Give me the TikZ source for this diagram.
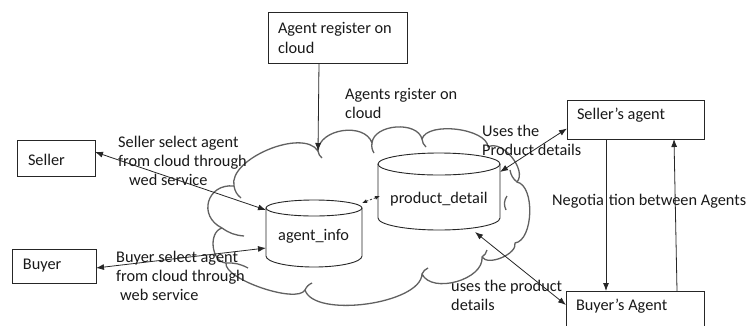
\documentclass[tikz,border=0pt]{standalone}
\usepackage{fontspec}
\setmainfont{Carlito}
\usetikzlibrary{arrows.meta}
\begin{document}
\begin{tikzpicture}[x=1pt,y=-1pt,
  every node/.style={font=\fontsize{16.3}{19}\selectfont, text=black!90},
  box/.style={draw=black!85, line width=0.9pt, anchor=base west, align=flush left, inner ysep=0pt, outer sep=0pt},
  lbl/.style={anchor=base west, inner sep=0pt, align=left},
  arr/.style={-{Latex[length=8pt,width=6pt]}, line width=0.8pt, draw=black!85},
  darr/.style={{Latex[length=8pt,width=6pt]}-{Latex[length=8pt,width=6pt]}, line width=0.8pt, draw=black!85},
  dasharr/.style={{Latex[length=5pt,width=4pt]}-{Latex[length=5pt,width=4pt]}, dashed, dash pattern=on 2pt off 2pt, line width=0.8pt, draw=black!85},
  lobe/.style={bend left=80, looseness=#1},
  cloudline/.style={draw=black!62, line width=1.3pt, line join=round},
  cyl/.style={draw=black!85, line width=0.9pt}]
\useasboundingbox (0,0) rectangle (749,325);
\fill[white] (0,0) rectangle (749,325);
\clip (0,0) rectangle (749,325);

% cloud
\coordinate (J1) at (222,228);
\coordinate (J2) at (234,186);
\coordinate (J3) at (318,151);
\coordinate (J4) at (372,143);
\coordinate (J5) at (422,139);
\coordinate (J6) at (488,147);
\coordinate (J7) at (517,182);
\coordinate (J8) at (515,243);
\coordinate (J9) at (482,257);
\coordinate (J10) at (422,274);
\coordinate (J11) at (305,290);
\coordinate (J12) at (226,263);
\draw[cloudline] (J1) to[lobe=1.6] (J2) to[lobe=0.78] (J3) to[lobe=1.05] (J4)
  to[lobe=0.97] (J5) to[lobe=0.72] (J6) to[lobe=0.9] (J7) to[lobe=0.78] (J8)
  to[lobe=0.8] (J9) to[lobe=0.93] (J10) to[lobe=0.65] (J11) to[lobe=0.5] (J12)
  to[lobe=1.07] (J1);
% inner curls
\draw[cloudline] (J2) to[bend right=20] (241,198);
\draw[cloudline] (J3) to[bend right=20] (322,158);
\draw[cloudline] (J4) to[bend right=20] (374,153);
\draw[cloudline] (J5) to[bend right=20] (426,147);
\draw[cloudline] (J7) to[bend left=20] (510,170);
\draw[cloudline] (507,196) to[bend right=30] (506,210);
\draw[cloudline] (J9) to[bend right=20] (487,250);
\draw[cloudline] (J10) to[bend left=20] (428,268);
\draw[cloudline] (J11) to[bend left=20] (312,283);
\draw[cloudline] (J12) to[bend left=15] (248,268);
\draw[cloudline] (J1) to[bend right=15] (244,236);

% cylinders
\draw[cyl, fill=white] (266,208) -- (266,256) arc[start angle=180,end angle=360,x radius=48pt,y radius=11pt] -- (362,208);
\draw[cyl] (314,208) ellipse[x radius=48pt, y radius=8pt];
\node[lbl] (ai) at (278,240) {agent\_info};
\draw[cyl, fill=white] (378,164) -- (378,218) arc[start angle=180,end angle=360,x radius=61pt,y radius=12pt] -- (500,164);
\draw[cyl] (439,164) ellipse[x radius=61pt, y radius=11pt];
\node[lbl] (pd) at (390,203) {product\_detail};

\coordinate (aiTL) at (266,210);
\coordinate (aiL) at (266,248);
\coordinate (aiTR) at (362,203);
\coordinate (pdL) at (380,196);
\coordinate (pdTR) at (500,172);
\coordinate (pdB) at (475,232);
\coordinate (cloudtop) at (318,151);

% boxes
\node[box, inner xsep=10pt, text width=119pt, text height=21pt, text depth=30pt,
  font=\fontsize{16.3}{20}\selectfont] (reg) at (268,33) {Agent register on\\cloud};
\node[box, inner xsep=11pt, text width=56pt, text height=25pt, text depth=11pt] (seller) at (17,165) {Seller};
\node[box, inner xsep=11pt, text width=62pt, text height=20pt, text depth=14pt] (buyer) at (12,269) {Buyer};
\node[box, inner xsep=10pt, text width=117pt, text height=19pt, text depth=20pt] (sagent) at (567,119) {Seller’s agent};
\node[box, inner xsep=10pt, text width=118pt, text height=19pt, text depth=25pt] (bagent) at (566,310) {Buyer’s Agent};

% labels (anchor = baseline of the last line)
\node[lbl] (regl) at (345,118) {Agents rgister on\\cloud};
\node[lbl] (sl) at (118,185) {Seller select agent\\from cloud through\\\hspace*{11pt}wed service};
\node[lbl] (bl) at (116,300) {Buyer select agent\\from cloud through\\\hspace*{4pt}web service};
\node[lbl] (ul) at (482,155) {Uses the\\Product details};
\node[lbl] (dl) at (451,310) {uses the product\\details};
\node[lbl] (neg) at (552,205) {Negotia\hspace{5pt}tion between Agents};

% connectors
\draw[arr] ([xshift=51pt]reg.south west) -- (cloudtop);
\draw[darr] ([yshift=6pt]seller.east) -- (aiTL);
\draw[darr] ([yshift=-2pt]buyer.east) -- (aiL);
\draw[dasharr] (aiTR) -- (pdL);
\draw[darr] (pdTR) -- ([yshift=-9pt]sagent.west);
\draw[darr] (pdB) -- ([yshift=5pt]bagent.base west);
\draw[arr] ([xshift=39pt]sagent.south west) -- ([xshift=40pt]bagent.north west);
\draw[arr] ([xshift=111pt]bagent.north west) -- ([xshift=107pt]sagent.south west);
\end{tikzpicture}
\end{document}
